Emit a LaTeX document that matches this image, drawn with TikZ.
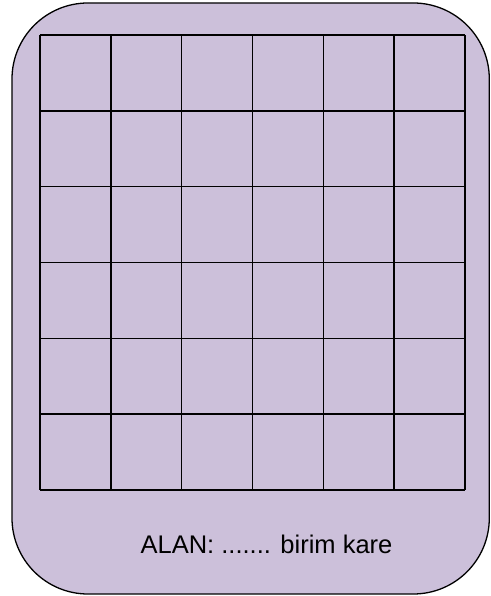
\documentclass[tikz,border=0pt]{standalone}
\usepackage{fontspec}
\setmainfont{Liberation Sans}
\definecolor{kartmor}{HTML}{CCC0DA}

\begin{document}
\begin{tikzpicture}[x=1pt,y=1pt]
\useasboundingbox (0,0) rectangle (490,596);
\draw[black, line width=1.3pt, fill=kartmor, rounded corners=76pt] (12,2) rectangle (489.3,593);
\foreach \i in {0,...,6} {
  \draw[black, line width=1.6pt] (40+\i*70.833,106) -- (40+\i*70.833,561);
  \draw[black, line width=1.6pt] (40,106+\i*75.833) -- (465,106+\i*75.833);
}
\node[font=\fontsize{25.5}{30}\selectfont, anchor=base, inner sep=0pt] (alan) at (266.5,42) {ALAN: ....... birim kare};
\end{tikzpicture}
\end{document}
